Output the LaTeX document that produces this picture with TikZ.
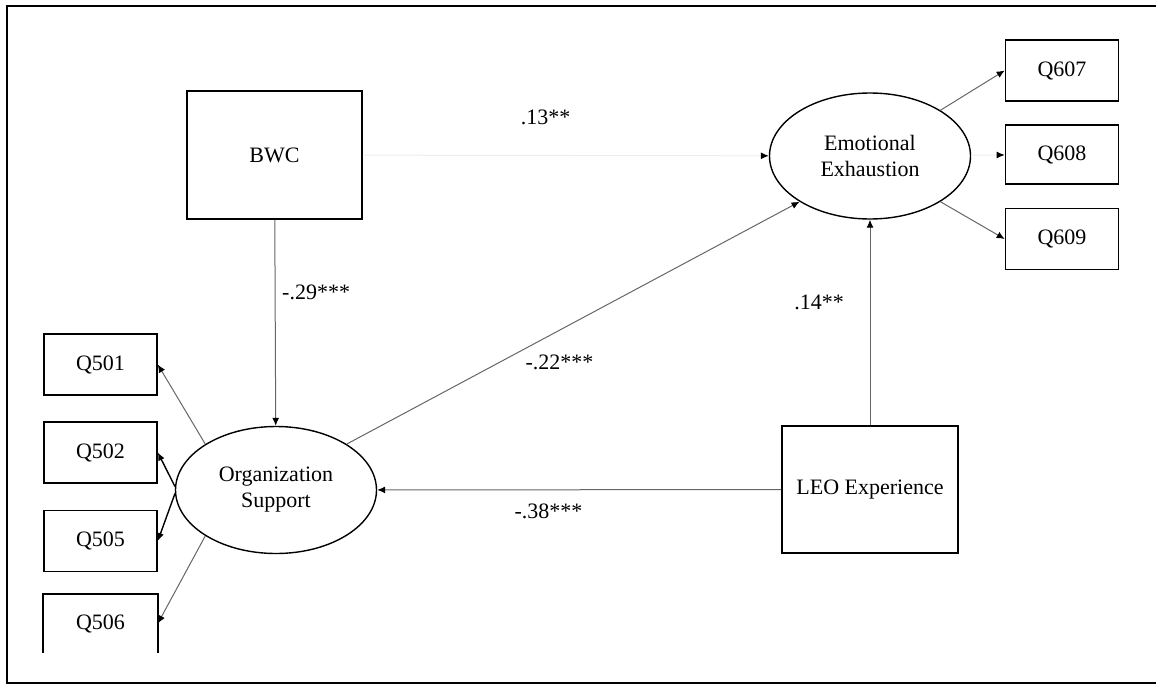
\documentclass[tikz,border=0pt]{standalone}
\usepackage{fontspec}
\setmainfont{Liberation Serif}
\usetikzlibrary{arrows.meta, positioning, shapes.geometric}

\begin{document}
\begin{tikzpicture}[x=0.5pt, y=-0.5pt, font=\fontsize{11}{13}\selectfont,
    item/.style={draw, line width=0.8pt, minimum width=56.5pt, minimum height=30.5pt, inner sep=0pt},
    observed/.style={draw, line width=0.8pt, minimum width=88pt, minimum height=64pt},
    factor/.style={draw, line width=0.7pt, ellipse, minimum width=100.5pt, minimum height=63.5pt, inner sep=0pt, align=center},
    link/.style={-{Latex[length=4pt, width=3.5pt, color=black]}, every edge/.append style={draw=black!60, line width=0.5pt}},
    strong/.style={every edge/.append style={draw=black, line width=0.7pt}},
    faint/.style={-{Latex[length=4pt, width=3.5pt, color=black]}, every edge/.append style={draw=black!7, line width=0.5pt}}]
    \useasboundingbox (0,0) rectangle (1156,685);
    \draw[line width=1.2pt] (1156,6) -- (7,6) -- (7,683) -- (1156,683);

    \node (bwc) [observed, minimum width=87.5pt] at (274.5,155) {BWC};
    \node (leo) [observed, minimum height=63.5pt] at (870,489.5) {LEO Experience};
    \node (os) [factor] at (276,490) {Organization\\Support};
    \node (ee) [factor, minimum height=63pt] at (870,156) {Emotional\\Exhaustion};

    \node (q501) [item] at (100.5,364.5) {Q501};
    \node (q502) [item] at (100.5,452.5) {Q502};
    \node (q505) [item] at (100.5,541) {Q505};
    \node (q506) [item, draw=none, minimum height=28.5pt] at (100.5,623.5) {Q506};
    \draw[line width=0.8pt] (q506.south west) |- (q506.north east) -- (q506.south east);

    \node (q607) [item] at (1062,70.5) {Q607};
    \node (q608) [item, minimum height=29.5pt] at (1062,154.5) {Q608};
    \node (q609) [item] at (1062,239) {Q609};

    \path[link]
    (bwc) edge node [pos=0.35, xshift=20.5pt] {-.29***} (os)
    (leo) edge node [pos=0.576, yshift=-11pt] {-.38***} (os)
    (os.33) edge node [pos=0.47, yshift=-16pt] {-.22***} (ee.213)
    (leo) edge node [pos=0.6, xshift=-25.5pt] {.14**} (ee)
    (os.147) edge (q501.east)
    (os.213) edge (q506.east)
    (ee.33) edge (q607.west)
    (ee.327) edge (q609.west);

    \path[link, strong]
    (os.178) edge (q502.east)
    (os.182) edge (q505.east);

    \path[faint]
    (bwc) edge node [pos=0.45, yshift=19pt] {.13**} (ee)
    (ee) edge (q608);
\end{tikzpicture}
\end{document}
